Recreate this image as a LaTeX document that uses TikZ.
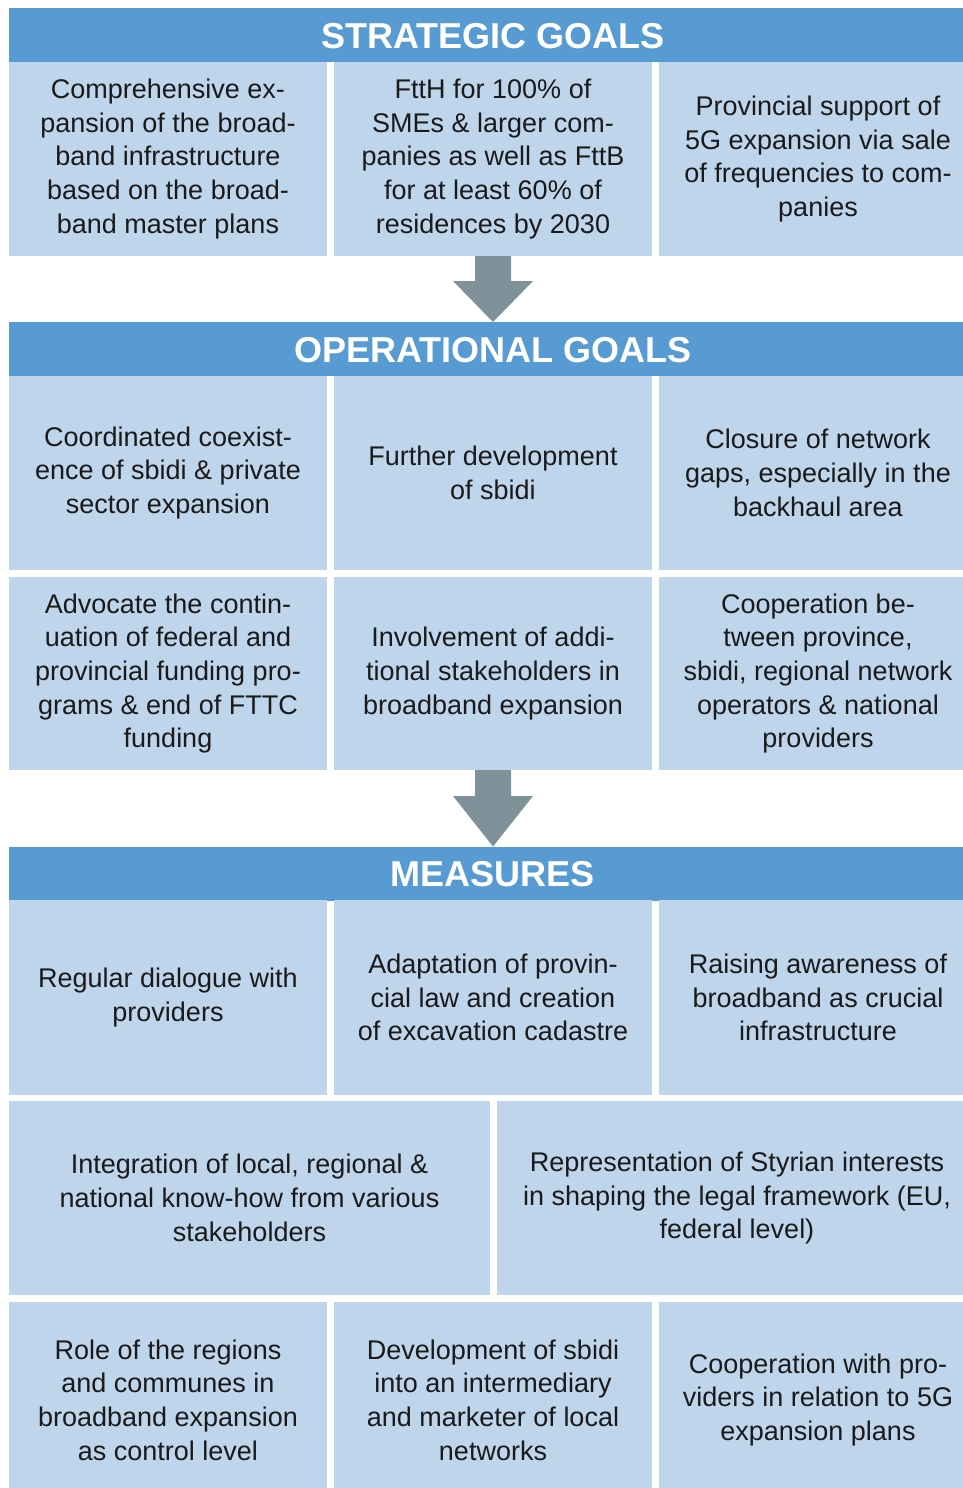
\documentclass[tikz,border=0pt]{standalone}
\usepackage{fontspec}
\setmainfont{Liberation Sans}
\usetikzlibrary{calc}
\definecolor{headblue}{HTML}{589BD2}
\definecolor{cellblue}{HTML}{BED5EB}
\definecolor{arrowgray}{HTML}{7F9299}
\definecolor{bodytext}{HTML}{1A1A1A}
\begin{document}
\begin{tikzpicture}[x=1pt,y=-1pt,
  header/.style={fill=headblue,draw=none,inner sep=0,outer sep=0,minimum width=968,minimum height=54},
  headtext/.style={text=white,inner sep=0,font=\bfseries\fontsize{36}{40}\selectfont},
  cell/.style={fill=cellblue,draw=none,inner sep=0,outer sep=0,align=center,text=bodytext,
    font=\fontsize{27}{33.7}\selectfont},
  flowarrow/.style={fill=arrowgray,draw=none}]
\useasboundingbox (0,0) rectangle (963,1488);
\fill[white] (0,0) rectangle (963,1488);

% --- strategic goals ---
\node[header] (hs) at (493,35) {};
\node[headtext] (hst) at (493,36) {STRATEGIC GOALS};
\node[cell,minimum width=318,minimum height=194] (s1) at (168,159)
  {Comprehensive ex-\\pansion of the broad-\\band infrastructure\\based on the broad-\\band master plans};
\node[cell,minimum width=318,minimum height=194] (s2) at (493,159)
  {FttH for 100\% of\\SMEs \& larger com-\\panies as well as FttB\\for at least 60\% of\\residences by 2030};
\node[cell,minimum width=318,minimum height=194] (s3) at (818,159)
  {Provincial support of\\5G expansion via sale\\of frequencies to com-\\panies};

% --- operational goals ---
\node[header] (ho) at (493,349) {};
\node[headtext] (hot) at (493,350) {OPERATIONAL GOALS};
\node[cell,minimum width=318,minimum height=194] (o1) at (168,473)
  {Coordinated coexist-\\ence of sbidi \& private\\sector expansion};
\node[cell,minimum width=318,minimum height=194] (o2) at (493,473)
  {Further development\\of sbidi};
\node[cell,minimum width=318,minimum height=194] (o3) at (818,473)
  {Closure of network\\gaps, especially in the\\backhaul area};
\node[cell,minimum width=318,minimum height=193] (o4) at (168,673.5)
  {Advocate the contin-\\uation of federal and\\provincial funding pro-\\grams \& end of FTTC\\funding};
\node[cell,minimum width=318,minimum height=193] (o5) at (493,673.5)
  {Involvement of addi-\\tional stakeholders in\\broadband expansion};
\node[cell,minimum width=318,minimum height=193] (o6) at (818,673.5)
  {Cooperation be-\\tween province,\\sbidi, regional network\\operators \& national\\providers};

% --- measures ---
\node[header] (hm) at (493,873.5) {};
\node[headtext] (hmt) at (493,874.5) {MEASURES};
\node[cell,minimum width=318,minimum height=195] (m1) at (168,997.5)
  {Regular dialogue with\\providers};
\node[cell,minimum width=318,minimum height=195] (m2) at (493,997.5)
  {Adaptation of provin-\\cial law and creation\\of excavation cadastre};
\node[cell,minimum width=318,minimum height=195] (m3) at (818,997.5)
  {Raising awareness of\\broadband as crucial\\infrastructure};
\node[cell,minimum width=481,minimum height=194] (m4) at (249.5,1198)
  {Integration of local, regional \&\\national know-how from various\\stakeholders};
\node[cell,minimum width=480,minimum height=194] (m5) at (737,1198)
  {Representation of Styrian interests\\in shaping the legal framework (EU,\\federal level)};
\node[cell,minimum width=318,minimum height=196] (m6) at (168,1400)
  {Role of the regions\\and communes in\\broadband expansion\\as control level};
\node[cell,minimum width=318,minimum height=196] (m7) at (493,1400)
  {Development of sbidi\\into an intermediary\\and marketer of local\\networks};
\node[cell,minimum width=318,minimum height=196] (m8) at (818,1400)
  {Cooperation with pro-\\viders in relation to 5G\\expansion plans};

% --- block arrows between the levels ---
\coordinate (a1top) at (s2.south);
\coordinate (a1tip) at (ho.north -| s2.south);
\fill[flowarrow] ($(a1top)+(-18,0)$) -- ($(a1top)+(18,0)$) -- ($(a1top)+(18,25)$)
  -- ($(a1top)+(40,25)$) -- (a1tip) -- ($(a1top)+(-40,25)$) -- ($(a1top)+(-18,25)$) -- cycle;
\coordinate (a2top) at (o5.south);
\coordinate (a2tip) at (hm.north -| o5.south);
\fill[flowarrow] ($(a2top)+(-18,0)$) -- ($(a2top)+(18,0)$) -- ($(a2top)+(18,26)$)
  -- ($(a2top)+(40,26)$) -- (a2tip) -- ($(a2top)+(-40,26)$) -- ($(a2top)+(-18,26)$) -- cycle;
\end{tikzpicture}
\end{document}
